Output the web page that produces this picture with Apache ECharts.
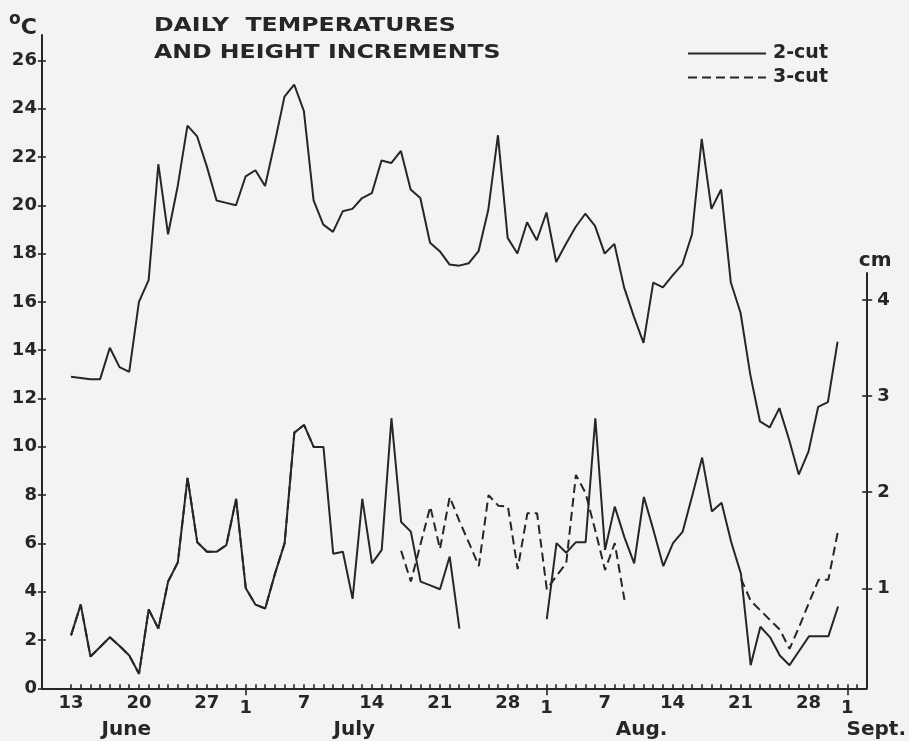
<!DOCTYPE html>
<html>
<head>
<meta charset="utf-8">
<script src="https://cdn.jsdelivr.net/npm/echarts@6/dist/echarts.min.js"></script>
<style>
  html, body { margin: 0; padding: 0; background: #f3f3f1; }
  #chart { width: 909px; height: 741px; }
</style>
</head>
<body>
<div id="chart"></div>
<script>
// Daily readings, day 0 = 13 June, day 79 = 31 August
const readingDays = [];
for (let d = 0; d < 80; d++) readingDays.push(d);

// Daily mean temperature, °C
const temperature = [
  12.9, 12.85, 12.8, 12.8, 14.1, 13.3, 13.1, 16.0, 16.9, 21.7,
  18.8, 20.8, 23.3, 22.85, 21.6, 20.2, 20.1, 20.0, 21.2, 21.45,
  20.8, 22.6, 24.5, 25.0, 23.9, 20.2, 19.2, 18.9, 19.75, 19.85,
  20.3, 20.5, 21.85, 21.75, 22.25, 20.65, 20.3, 18.45, 18.1, 17.55,
  17.5, 17.6, 18.1, 19.8, 22.9, 18.65, 18.0, 19.3, 18.55, 19.7,
  17.65, 18.4, 19.1, 19.65, 19.15, 18.0, 18.4, 16.6, 15.4, 14.3,
  16.8, 16.6, 17.1, 17.55, 18.8, 22.75, 19.85, 20.65, 16.8, 15.55,
  13.0, 11.05, 10.8, 11.6, 10.3, 8.85, 9.8, 11.65, 11.85, 14.35
];

// Daily height increment, cm — two-cut regime
const heightTwoCut = [
  0.51, 0.83, 0.29, 0.39, 0.49, 0.40, 0.30, 0.11, 0.78, 0.58,
  1.07, 1.27, 2.15, 1.48, 1.38, 1.38, 1.45, 1.93, 1.00, 0.83,
  0.79, 1.15, 1.47, 2.62, 2.70, 2.47, 2.47, 1.36, 1.38, 0.89,
  1.93, 1.26, 1.40, 2.77, 1.69, 1.59, 1.07, 1.03, 0.99, 1.33,
  0.58, null, null, null, null, null, null, null, null, 0.68,
  1.47, 1.37, 1.48, 1.48, 2.77, 1.40, 1.85, 1.53, 1.26, 1.95,
  1.60, 1.23, 1.47, 1.59, 1.97, 2.36, 1.80, 1.89, 1.48, 1.15,
  0.20, 0.60, 0.49, 0.30, 0.20, 0.35, 0.50, 0.50, 0.50, 0.81
];

// Daily height increment, cm — three-cut regime
const heightThreeCut = [
  0.51, 0.83, 0.29, 0.39, 0.49, 0.40, 0.30, 0.11, 0.78, 0.58,
  1.07, 1.27, 2.15, 1.48, 1.38, 1.38, 1.45, 1.93, 1.00, 0.83,
  0.79, 1.15, 1.47, 2.62, 2.70, 2.47, 2.47, null, null, null,
  null, null, null, null, 1.39, 1.07, 1.46, 1.85, 1.41, 1.95,
  1.70, 1.47, 1.23, 1.97, 1.86, 1.85, 1.20, 1.78, 1.78, 0.99,
  1.13, 1.26, 2.18, 1.99, 1.60, 1.19, 1.47, 0.88, null, null,
  null, null, null, null, null, null, null, null, null, 1.10,
  0.87, 0.77, 0.67, 0.57, 0.37, 0.60, 0.85, 1.09, 1.09, 1.60
];

// Bottom axis: a small tick for every day, dates under the weekly ticks
const tickDays = [];
for (let d = 0; d <= 81; d++) tickDays.push(d);
const dateTickValues = [0, 7, 14, 18, 24, 31, 38, 45, 49, 55, 62, 69, 76, 80];
const dateTickLabels = ['13', '20', '27', '1', '7', '14', '21', '28', '1', '7', '14', '21', '28', '1'];
const monthStartDays = [18, 49, 80];
const monthLabelDays = [5.7, 29.2, 58.8, 80];
const monthLabels = ['June', 'July', 'Aug.', 'Sept.'];

// Vertical scales
const temperatureTicks = [0, 2, 4, 6, 8, 10, 12, 14, 16, 18, 20, 22, 24, 26];
const heightTicks = [1, 2, 3, 4];

const INK = '#262626';
const FONT = '"DejaVu Sans", sans-serif';

const pairs = (vals) => readingDays.map((d, i) => [d, vals[i]]);

const chart = echarts.init(document.getElementById('chart'), null, { renderer: 'canvas' });

const axisLineStyle = { color: INK, width: 2 };
const tickLineStyle = { color: INK, width: 1.6 };
const labelBase = { color: INK, fontFamily: FONT, fontWeight: 'bold', fontSize: 18 };

chart.setOption({
  animation: false,
  backgroundColor: '#f3f3f1',
  grid: [
    { left: 41.9, right: 41.8, top: 35, bottom: 52.7 },
    { left: 41.9, right: 41.8, top: 273, bottom: 52.7 }
  ],
  graphic: [{
    type: 'text',
    x: 154,
    y: 12,
    scaleX: 1.18,
    style: {
      text: 'DAILY  TEMPERATURES\nAND HEIGHT INCREMENTS',
      font: 'bold 20px "DejaVu Sans", sans-serif',
      fill: INK,
      lineHeight: 27
    }
  }],
  legend: {
    data: ['2-cut', '3-cut'],
    orient: 'vertical',
    left: 687,
    top: 44,
    padding: 0,
    itemWidth: 78,
    itemHeight: 14,
    itemGap: 5,
    selectedMode: false,
    itemStyle: { color: 'rgba(0,0,0,0)', borderWidth: 0 },
    textStyle: { color: INK, fontFamily: FONT, fontWeight: 'bold', fontSize: 19, lineHeight: 14, padding: [0, 0, 0, 2] }
  },
  xAxis: [
    {
      gridIndex: 0, type: 'value', position: 'bottom', min: -3, max: 82,
      axisLine: { show: true, onZero: false, lineStyle: axisLineStyle },
      axisTick: { show: true, inside: true, length: 4, customValues: tickDays, lineStyle: tickLineStyle },
      axisLabel: {
        ...labelBase,
        margin: 6,
        customValues: dateTickValues,
        formatter: (v) => {
          const t = dateTickLabels[dateTickValues.indexOf(v)];
          return t === '1' ? '{low|1}' : t;
        },
        rich: { low: { ...labelBase, padding: [5, 0, 0, 0] } }
      },
      splitLine: { show: false }
    },
    {
      gridIndex: 0, type: 'value', position: 'bottom', min: -3, max: 82,
      axisLine: { show: false, onZero: false },
      axisTick: { show: true, length: 7, customValues: monthStartDays, lineStyle: tickLineStyle },
      axisLabel: {
        ...labelBase,
        fontSize: 20,
        margin: 31,
        customValues: monthLabelDays,
        formatter: (v) => {
          const t = monthLabels[monthLabelDays.indexOf(v)];
          return t === 'Sept.' ? '{late|' + t + '}' : t;
        },
        rich: { late: { ...labelBase, fontSize: 20, padding: [0, 0, 5, 58] } }
      },
      splitLine: { show: false }
    },
    { gridIndex: 1, type: 'value', min: -3, max: 82, show: false }
  ],
  yAxis: [
    {
      gridIndex: 0, type: 'value', position: 'left', min: 0, max: 27.05,
      axisLine: { show: true, onZero: false, lineStyle: axisLineStyle },
      axisTick: { show: true, length: 4, customValues: temperatureTicks, lineStyle: tickLineStyle },
      axisLabel: { ...labelBase, margin: 5, customValues: temperatureTicks },
      splitLine: { show: false },
      name: '{o|o}{c|C}',
      nameLocation: 'end',
      nameGap: -4,
      nameTextStyle: {
        align: 'right',
        padding: [0, 5, 0, 0],
        rich: {
          o: { color: INK, fontFamily: FONT, fontWeight: 'bold', fontSize: 17, lineHeight: 17, verticalAlign: 'bottom', padding: [0, 0, 11, 0] },
          c: { color: INK, fontFamily: FONT, fontWeight: 'bold', fontSize: 22, lineHeight: 24, verticalAlign: 'bottom' }
        }
      }
    },
    {
      gridIndex: 0, type: 'value', position: 'left', min: 0, max: 27.05,
      axisLine: { show: false, onZero: false },
      axisTick: { show: true, inside: true, length: 4, customValues: temperatureTicks, lineStyle: tickLineStyle },
      axisLabel: { show: false },
      splitLine: { show: false }
    },
    {
      gridIndex: 1, type: 'value', position: 'right', min: -0.0406, max: 4.281,
      axisLine: { show: true, onZero: false, lineStyle: axisLineStyle },
      axisTick: { show: true, length: 5, customValues: heightTicks, lineStyle: tickLineStyle },
      axisLabel: { ...labelBase, margin: 10, customValues: heightTicks },
      splitLine: { show: false },
      name: 'cm',
      nameLocation: 'end',
      nameGap: 2,
      nameTextStyle: { color: INK, fontFamily: FONT, fontWeight: 'bold', fontSize: 20, padding: [0, 0, 0, 16] }
    },
    {
      gridIndex: 1, type: 'value', position: 'right', min: -0.0406, max: 4.281,
      axisLine: { show: false, onZero: false },
      axisTick: { show: true, inside: true, length: 5, customValues: heightTicks, lineStyle: tickLineStyle },
      axisLabel: { show: false },
      splitLine: { show: false }
    }
  ],
  series: [
    {
      name: 'Temperature', type: 'line', xAxisIndex: 0, yAxisIndex: 0,
      data: pairs(temperature), symbol: 'none', silent: true,
      lineStyle: { color: INK, width: 2 }
    },
    {
      name: '2-cut', type: 'line', xAxisIndex: 2, yAxisIndex: 2,
      data: pairs(heightTwoCut), symbol: 'none', silent: true, connectNulls: false,
      itemStyle: { color: INK },
      lineStyle: { color: INK, width: 2 }
    },
    {
      name: '3-cut', type: 'line', xAxisIndex: 2, yAxisIndex: 2,
      data: pairs(heightThreeCut), symbol: 'none', silent: true, connectNulls: false,
      itemStyle: { color: INK },
      lineStyle: { color: INK, width: 2, type: [9, 5] }
    }
  ]
});
</script>
</body>
</html>
